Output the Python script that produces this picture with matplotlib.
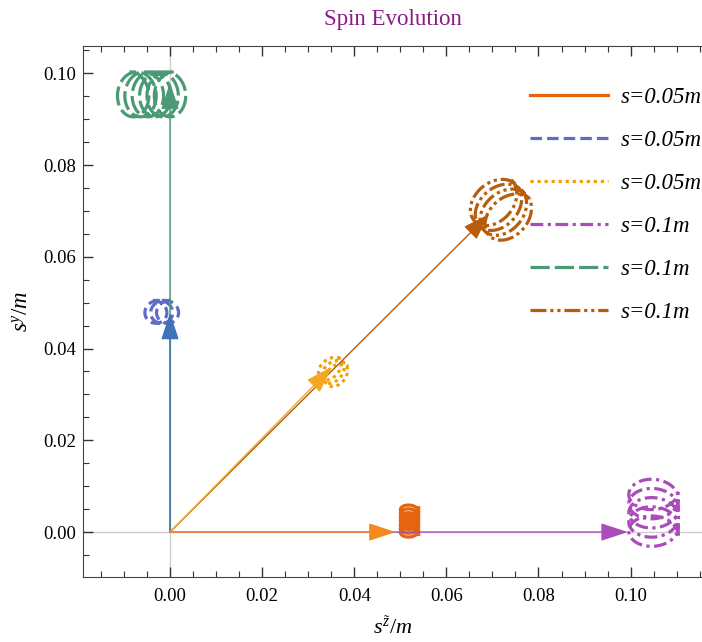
import numpy as np
import matplotlib
matplotlib.use("Agg")
import matplotlib.pyplot as plt

plt.rcParams['font.family'] = ['Liberation Serif', 'DejaVu Serif']
plt.rcParams['mathtext.fontset'] = 'custom'
plt.rcParams['mathtext.rm'] = 'Liberation Serif'
plt.rcParams['mathtext.it'] = 'Liberation Serif:italic'

# legend entries / series
labels = ["s=0.05m", "s=0.05m", "s=0.05m", "s=0.1m", "s=0.1m", "s=0.1m"]
colors = ["#E5640F", "#5D6DC3", "#F3A000", "#AA4DBA", "#4C9A75", "#B65E0C"]
dashes = [None, (3.6, 1.6), (1.0, 1.2), (4.0, 1.4, 1.0, 1.4), (6.0, 1.6), (5.0, 1.2, 1.0, 1.2, 1.0, 1.2)]

# spin vector tips (arrows start at the origin)
tip_x = [0.0490, 0.0, 0.0352, 0.0994, 0.0, 0.0693]
tip_y = [0.0, 0.0478, 0.0360, 0.0, 0.0980, 0.0693]
arrow_colors = ["#F28A1E", "#3F72B8", "#F5A623", "#AA4DBA", "#4C9A75", "#B65E0C"]

# precession coils: centre, half-axis along spin, half-axis across, drift, turns
coil_x = [0.0520, -0.0018, 0.0355, 0.1050, -0.0040, 0.0720]
coil_y = [0.0024, 0.0480, 0.0350, 0.0042, 0.0954, 0.0704]
coil_along = [0.0020, 0.0025, 0.0030, 0.0054, 0.0049, 0.0060]
coil_across = [0.0012, 0.0027, 0.0022, 0.0038, 0.0038, 0.0045]
coil_drift = [0.0029, 0.0019, 0.0015, 0.0050, 0.0048, 0.0030]
coil_turns = [7, 3, 3, 5, 6, 4]

fig = plt.figure(figsize=(7.02, 6.42), dpi=100)
ax = fig.add_axes([0.1187, 0.1012, 0.8813, 0.8276])

ax.axhline(0, color="#CCCCCC", lw=1, zorder=0)
ax.axvline(0, color="#CCCCCC", lw=1, zorder=0)

handles = []
for i in range(6):
    # unit vectors: along the spin and perpendicular to it
    ang = np.arctan2(tip_y[i], tip_x[i])
    u = np.array([np.cos(ang), np.sin(ang)])
    v = np.array([-np.sin(ang), np.cos(ang)])
    if v[1] > 0 and abs(u[0]) > 0.5 and abs(u[1]) > 0.5:
        v = -v
    t = np.linspace(0, 2 * np.pi * coil_turns[i], 800 * coil_turns[i])
    s = t / t[-1] * 2 - 1
    px = coil_x[i] + coil_along[i] * np.cos(t) * u[0] + (coil_across[i] * np.sin(t) + coil_drift[i] * s) * v[0]
    py = coil_y[i] + coil_along[i] * np.cos(t) * u[1] + (coil_across[i] * np.sin(t) + coil_drift[i] * s) * v[1]
    line, = ax.plot(px, py, color=colors[i], lw=2.3, label=labels[i], zorder=3)
    if dashes[i] is not None:
        line.set_dashes(dashes[i])
    line.set_dash_capstyle('butt')
    handles.append(line)

# arrows, longer ones first so shorter sit on top
order = [4, 5, 3, 1, 2, 0]
for i in order:
    ax.annotate("", xy=(tip_x[i], tip_y[i]), xytext=(0, 0),
                arrowprops=dict(arrowstyle="-|>,head_length=0.85,head_width=0.28",
                                mutation_scale=20, lw=1, color=arrow_colors[i],
                                shrinkA=0, shrinkB=0), zorder=4)

ax.set_xlim(-0.01882, 0.1155)
ax.set_ylim(-0.0098, 0.1060)
ax.set_xticks([0.0, 0.02, 0.04, 0.06, 0.08, 0.10])
ax.set_yticks([0.0, 0.02, 0.04, 0.06, 0.08, 0.10])
ax.set_xticks(np.arange(-0.015, 0.116, 0.005), minor=True)
ax.set_yticks(np.arange(-0.005, 0.106, 0.005), minor=True)
ax.xaxis.set_major_formatter(matplotlib.ticker.FormatStrFormatter('%.2f'))
ax.yaxis.set_major_formatter(matplotlib.ticker.FormatStrFormatter('%.2f'))
ax.tick_params(which='both', direction='in', top=True, right=False, labelsize=13.5, color='#333333')
ax.tick_params(which='major', length=7, width=1)
ax.tick_params(which='minor', length=4, width=0.8)
ax.tick_params(axis='x', which='major', pad=8)
ax.tick_params(axis='y', which='major', pad=5)
ax.spines['right'].set_visible(False)
for sp in ['left', 'top', 'bottom']:
    ax.spines[sp].set_color('#444444')

ax.set_xlabel(r"$s^{\tilde{z}}/m$", fontsize=16, labelpad=9)
ax.set_ylabel("$s^{y}/m$", fontsize=16.5, labelpad=8)
ax.set_title("Spin Evolution", color="#8A1A8A", fontsize=16.5, pad=15)

leg = ax.legend(handles=handles, loc='upper left', bbox_to_anchor=(0.722, 0.922),
                frameon=False, handlelength=3.4, handletextpad=0.55,
                labelspacing=0.96, borderpad=0, borderaxespad=0,
                prop={'style': 'italic', 'size': 16.5})

fig.savefig("out.png", dpi=100)
